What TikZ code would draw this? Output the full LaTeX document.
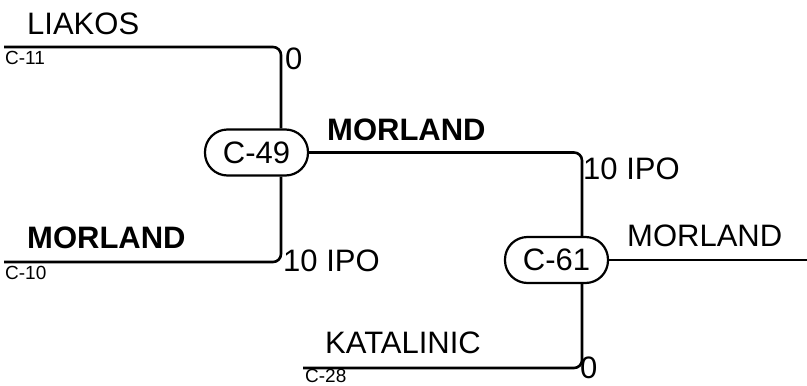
\documentclass[tikz,border=0pt]{standalone}
\usepackage{fontspec}
\setmainfont{Liberation Sans}
\begin{document}
\begin{tikzpicture}[x=1pt,y=-1pt,
  team/.style={draw,line width=2.2pt,rounded corners=22.5pt,minimum width=103pt,minimum height=46pt,inner sep=0pt,font=\fontsize{31}{36}\selectfont},
  link/.style={line width=2.6pt,rounded corners=8pt},
  big/.style={anchor=base west,inner sep=0pt,font=\fontsize{31}{36}\selectfont},
  bigb/.style={anchor=base west,inner sep=0pt,font=\fontsize{31}{36}\selectfont\bfseries},
  small/.style={anchor=base west,inner sep=0pt,font=\fontsize{19}{22}\selectfont}]
\useasboundingbox (0,0) rectangle (807,386);
\node[team] (c49) at (256.5,152.5) {C-49};
\node[team] (c61) at (556.5,260) {C-61};
\coordinate (l11) at (4,47);
\coordinate (l10) at (4,262);
\coordinate (l28) at (303,368);
\coordinate (rend) at (807,260);
\coordinate (c49t) at ([xshift=24.5pt]c49.north);
\coordinate (c49b) at ([xshift=24.5pt]c49.south);
\coordinate (c61t) at ([xshift=25.5pt]c61.north);
\coordinate (c61b) at ([xshift=25.5pt]c61.south);
\draw[link] (l11) -| (c49t);
\draw[link] (l10) -| (c49b);
\draw[link] (c49.east) -| (c61t);
\draw[link] (l28) -| (c61b);
\draw[link] (c61.east) -- (rend);
\node[big] (t1) at (27,34) {LIAKOS};
\node[small] (t2) at (5,64) {C-11};
\node[big] (t3) at (285,69) {0};
\node[bigb] (t4) at (327,140) {MORLAND};
\node[big] (t5) at (583,179) {10 IPO};
\node[bigb] (t6) at (27,248) {MORLAND};
\node[small] (t7) at (5,279) {C-10};
\node[big] (t8) at (283,271) {10 IPO};
\node[big] (t9) at (627,246) {MORLAND};
\node[big] (t10) at (325,353) {KATALINIC};
\node[small] (t11) at (305,382) {C-28};
\node[big] (t12) at (580,378) {0};
\end{tikzpicture}
\end{document}
